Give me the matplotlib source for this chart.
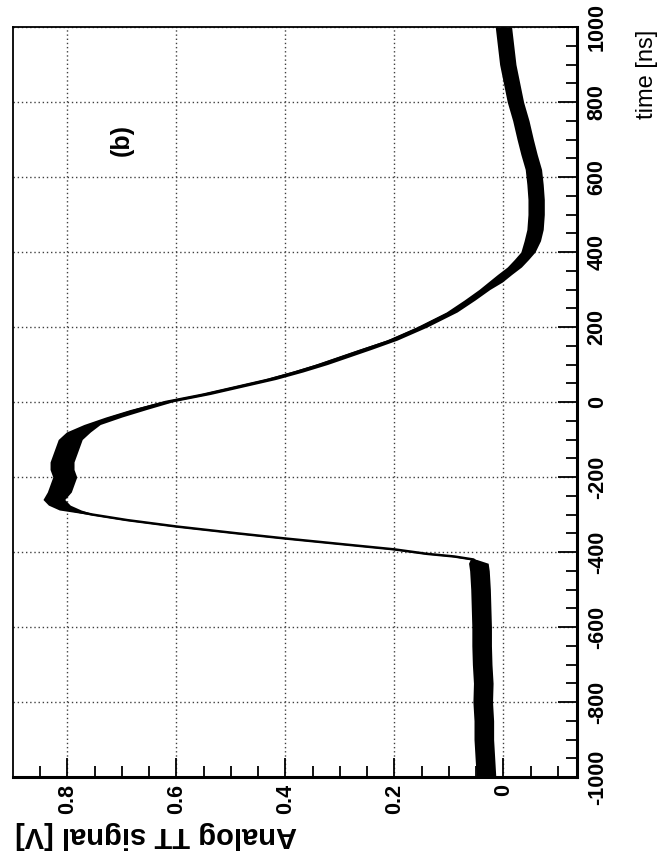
import matplotlib
matplotlib.use("Agg")
import matplotlib.pyplot as plt
import numpy as np

plt.rcParams['font.family'] = ['Liberation Sans', 'DejaVu Sans']

# scope trace (time in ns, signal in V)
time_ns = [-1000, -950, -900, -850, -800, -750, -700, -650, -600, -550, -500, -450,
           -430, -420, -412, -405, -393, -380, -364, -350, -332, -315, -300, -288, -275, -260,
           -240, -220, -200, -180, -160, -140, -120, -100, -80, -60, -40, -20,
           0, 20, 40, 60, 80, 100, 120, 140,
           165, 200, 240, 272, 300, 320, 340, 360, 380, 400,
           430, 460, 500, 540, 580, 620, 660, 700,
           750, 800, 850, 900, 950, 1000]
signal_v = [0.032, 0.034, 0.036, 0.036, 0.038, 0.037, 0.039, 0.040, 0.040, 0.041, 0.042, 0.044,
            0.046, 0.055, 0.09, 0.14, 0.20, 0.29, 0.40, 0.49, 0.60, 0.69, 0.755, 0.795, 0.815, 0.825,
            0.815, 0.81, 0.805, 0.81, 0.81, 0.805, 0.80, 0.795, 0.78, 0.755, 0.715, 0.67,
            0.62, 0.55, 0.49, 0.43, 0.38, 0.335, 0.295, 0.255,
            0.205, 0.15, 0.095, 0.062, 0.035, 0.015, -0.002, -0.02, -0.033, -0.045,
            -0.053, -0.058, -0.06, -0.06, -0.058, -0.055, -0.047, -0.04,
            -0.032, -0.022, -0.015, -0.008, -0.004, 0.0]
# half width of the noise band around the trace
noise_v = [0.018] * 12 + \
          [0.018, 0.006, 0.006, 0.006, 0.006, 0.006, 0.006, 0.006, 0.006, 0.006, 0.006, 0.02, 0.02, 0.02] + \
          [0.022] * 9 + [0.015] * 3 + \
          [0.012] * 8 + \
          [0.01] * 5 + [0.013] * 5 + \
          [0.015] * 14

signal_ticks = [0, 0.2, 0.4, 0.6, 0.8]
signal_labels = ['0', '0.2', '0.4', '0.6', '0.8']
time_ticks = [-1000, -800, -600, -400, -200, 0, 200, 400, 600, 800, 1000]
time_labels = ['-1000', '-800', '-600', '-400', '-200', '0', '200', '400', '600', '800', '1000']

W, H = 660, 864
fig = plt.figure(figsize=(W / 100, H / 100), dpi=100)
# the whole plot is turned a quarter turn: time runs up, signal runs right-to-left
ax = fig.add_axes([13 / W, 87 / H, 564 / W, 750 / H])

t = np.array(time_ns)
v = np.array(signal_v)
n = np.array(noise_v)
ax.fill_betweenx(t, v - n, v + n, color='black', lw=0, zorder=2)
ax.plot(v, t, color='black', lw=1.8, zorder=3)

ax.set_xlim(0.9, -0.135)
ax.set_ylim(-1000, 1000)

ax.set_xticks(signal_ticks)
ax.set_xticklabels(signal_labels, rotation=90, fontsize=15.5, fontweight='bold', va='top', ha='center')
ax.set_xticks(np.arange(-0.1, 0.9, 0.05), minor=True)
ax.set_yticks(time_ticks)
ax.yaxis.tick_right()
ax.set_yticklabels(time_labels, rotation=90, fontsize=15.5, fontweight='bold', va='center', ha='left')
ax.set_yticks(np.arange(-1000, 1001, 50), minor=True)

ax.tick_params(axis='x', which='both', direction='in', bottom=True, top=False, pad=5)
ax.tick_params(axis='y', which='both', direction='in', left=False, right=True, pad=7)
ax.tick_params(which='major', length=14, width=1.3)
ax.tick_params(which='minor', length=8, width=1.3)

ax.grid(True, which='major', linestyle=(0, (1, 2)), color='0.25', lw=1.0)

for side in ['bottom', 'right']:
    ax.spines[side].set_linewidth(2.2)
for side in ['left', 'top']:
    ax.spines[side].set_linewidth(1.3)

ax.text(0.70, 700, '(b)', rotation=90, fontsize=18, fontweight='bold', ha='center', va='center')
fig.text(647 / W, 1 - 30 / H, 'time [ns]', rotation=90, ha='center', va='top', fontsize=17)
fig.text(15 / W, 1 - 835 / H, 'Analog TT signal [V]', rotation=180, ha='left', va='center',
         fontsize=21, fontweight='bold')

fig.savefig('out.png', dpi=100)
